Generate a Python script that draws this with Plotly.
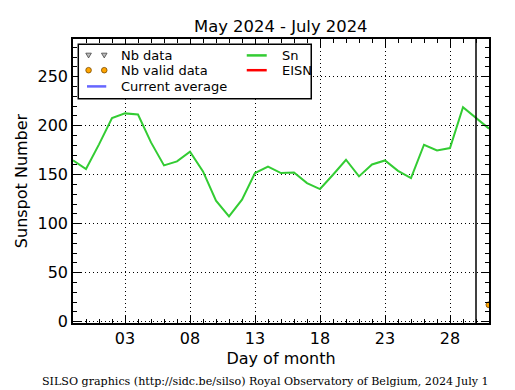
import plotly.graph_objects as go

# ---- data ----
days = list(range(-1, 32))  # day of month (June 2024; -1/0 = end of May, 31 = July 1)
sn_values = [164.6, 155.8, 181.0, 207.9, 212.6, 211.5, 183.0, 159.5, 163.6, 173.5,
             153.4, 123.5, 107.4, 124.5, 151.7, 158.2, 151.7, 152.3, 141.5, 135.4,
             150.0, 165.3, 148.3, 160.5, 164.6, 154.0, 146.6, 180.6, 174.8, 177.2,
             219.0, 208.0, 197.0]
valid_days = [31]
valid_values = [17.3]
current_day = 30
x_range = [-1, 31]
y_range = [-1.3, 288.5]

title_text = "May 2024 - July 2024"
footer_text = "SILSO graphics (http://sidc.be/silso) Royal Observatory of Belgium, 2024 July 1"

# ---- layout geometry (pixels) ----
W, H = 515, 390
L, R, T, B = 72.7, 489.3, 39.3, 323.3


def px(x, y):
    return (x - L) / (R - L), (B - y) / (B - T)


fig = go.Figure()
fig.add_trace(go.Scatter(x=days, y=sn_values, mode="lines",
                         line=dict(color="#33cc33", width=2), showlegend=False,
                         hoverinfo="skip"))
fig.add_trace(go.Scatter(x=valid_days, y=valid_values, mode="markers",
                         marker=dict(color="#ffa500", size=6, line=dict(color="#7a4a00", width=0.8)),
                         showlegend=False, cliponaxis=True))

shapes = []
# current day vertical line
shapes.append(dict(type="line", xref="x", yref="paper", x0=current_day, x1=current_day,
                   y0=0, y1=1, line=dict(color="black", width=1.5)))

# ---- manual legend ----
bx0, by0 = px(78, 44.5)
bx1, by1 = px(311.3, 99)
shapes.append(dict(type="rect", xref="paper", yref="paper", x0=bx0, y0=by1, x1=bx1, y1=by0,
                   line=dict(color="black", width=1.5), fillcolor="white", layer="above"))

annotations = []
rows = [55.7, 70.5, 86.7]


def tri(cx, cy, s=2.8):
    pts = [px(cx - s, cy - s * 0.8), px(cx + s, cy - s * 0.8), px(cx, cy + s * 0.9)]
    return "M {},{} L {},{} L {},{} Z".format(pts[0][0], pts[0][1], pts[1][0], pts[1][1],
                                              pts[2][0], pts[2][1])


for cx in (88.3, 104.0):
    shapes.append(dict(type="path", xref="paper", yref="paper", path=tri(cx, rows[0]),
                       fillcolor="#bbbbbb", line=dict(color="#444444", width=0.8), layer="above"))
    c0 = px(cx - 2.8, rows[1] - 2.8)
    c1 = px(cx + 2.8, rows[1] + 2.8)
    shapes.append(dict(type="circle", xref="paper", yref="paper", x0=c0[0], y0=c1[1],
                       x1=c1[0], y1=c0[1], fillcolor="#ffa500",
                       line=dict(color="#7a4a00", width=0.8), layer="above"))


def hline(x0, x1, y, color):
    p0 = px(x0, y)
    p1 = px(x1, y)
    shapes.append(dict(type="line", xref="paper", yref="paper", x0=p0[0], y0=p0[1],
                       x1=p1[0], y1=p1[1], line=dict(color=color, width=2.5), layer="above"))


hline(86.7, 106.0, rows[2], "#6666ff")
hline(246.7, 266.7, rows[0], "#33cc33")
hline(246.7, 266.7, rows[1], "#ff0000")

legend_texts = [("Nb data", 118.3, rows[0]), ("Nb valid data", 118.3, rows[1]),
                ("Current average", 118.3, rows[2]), ("Sn", 280, rows[0]), ("EISN", 280, rows[1])]
for txt, x, y in legend_texts:
    p = px(x, y)
    annotations.append(dict(text=txt, xref="paper", yref="paper", x=p[0], y=p[1],
                            xanchor="left", yanchor="middle", showarrow=False,
                            font=dict(family="DejaVu Sans", size=13, color="black")))

# title & footer
annotations.append(dict(text=title_text, xref="paper", yref="paper", x=0.5, y=px(0, 26.5)[1],
                        xanchor="center", yanchor="middle", showarrow=False,
                        font=dict(family="DejaVu Sans", size=16.4, color="black")))
annotations.append(dict(text=footer_text, xref="paper", yref="paper", x=px(491, 0)[0],
                        y=px(0, 382)[1], xanchor="right", yanchor="middle", showarrow=False,
                        font=dict(family="DejaVu Serif", size=11.1, color="black")))

grid_dash = "1px,3px"

fig.update_layout(
    width=W, height=H,
    margin=dict(l=L, r=W - R, t=T, b=H - B, pad=0),
    paper_bgcolor="white", plot_bgcolor="white",
    shapes=shapes, annotations=annotations,
    font=dict(family="DejaVu Sans", size=16, color="black"),
    xaxis=dict(range=x_range, tickmode="linear", tick0=3, dtick=5, tickformat="02d",
               ticks="inside", ticklen=8, tickwidth=1, tickcolor="black",
               showline=True, linecolor="black", linewidth=1.5, mirror="ticks",
               showgrid=True, gridcolor="black", griddash=grid_dash, gridwidth=1,
               zeroline=False,
               minor=dict(dtick=1, tick0=0, ticks="inside", ticklen=4, tickcolor="black",
                          showgrid=False),
               title=dict(text="Day of month", font=dict(size=16), standoff=6),
               tickfont=dict(size=16)),
    yaxis=dict(range=y_range, tickmode="linear", tick0=0, dtick=50,
               ticks="inside", ticklen=8, tickwidth=1, tickcolor="black",
               showline=True, linecolor="black", linewidth=1.5, mirror="ticks",
               showgrid=True, gridcolor="black", griddash=grid_dash, gridwidth=1,
               zeroline=False,
               minor=dict(dtick=10, tick0=0, ticks="inside", ticklen=4, tickcolor="black",
                          showgrid=False),
               title=dict(text="Sunspot Number", font=dict(size=16), standoff=6),
               tickfont=dict(size=16)),
)

fig.write_html("out.html", config={"displayModeBar": False},
               post_script="document.body.style.margin='0';document.body.style.overflow='hidden';")
